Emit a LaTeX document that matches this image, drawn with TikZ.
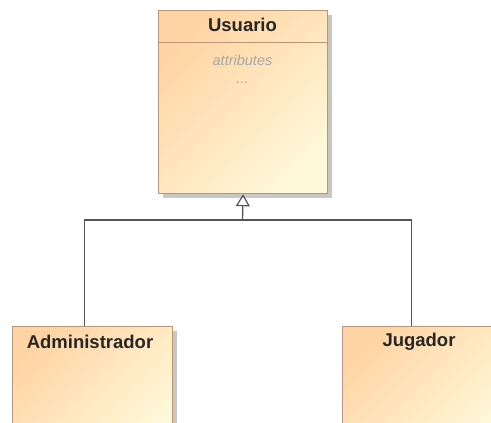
\documentclass[tikz,border=0pt]{standalone}
\usepackage{fontspec}
\setmainfont{Liberation Sans}
\usetikzlibrary{shadows,arrows.meta}
\definecolor{boxtop}{HTML}{FFD4A4}
\definecolor{boxbot}{HTML}{FFF8D8}
\definecolor{boxline}{HTML}{BC9674}
\definecolor{wire}{HTML}{555555}
\tikzset{
  classbox/.style={rectangle, draw=boxline, line width=1.2pt, anchor=north west,
    shading=axis, top color=boxtop, bottom color=boxbot, shading angle=45,
    drop shadow={shadow xshift=4pt, shadow yshift=-4pt, fill=black!22, opacity=1},
    inner sep=0pt},
  classname/.style={font=\bfseries\fontsize{18.5}{22}\selectfont, text=black!85, inner sep=0pt},
  compart/.style={font=\itshape\fontsize{14.5}{17}\selectfont, text=black!35, inner sep=0pt},
  wireline/.style={draw=wire, line width=1.3pt},
  genarrow/.style={wireline, -{Triangle[open, length=12pt, width=14pt, line width=1.2pt]}}
}
\begin{document}
\begin{tikzpicture}[x=1pt, y=-1pt]
  \useasboundingbox (0,0) rectangle (491,423);
  \clip (0,0) rectangle (491,423);
  % superclass
  \node[classbox, minimum width=169pt, minimum height=183pt] (usuario) at (158,10) {};
  \draw[boxline, line width=1pt] (158,42) -- (327,42);
  \node[classname] (usuarioname) at (242.5,25) {Usuario};
  \node[compart] (attrs) at (242.5,60) {attributes};
  \node[compart] (dots) at (242.5,83) {...};
  % subclasses
  \node[classbox, minimum width=160pt, minimum height=120pt] (admin) at (12,326) {};
  \node[classname] (adminname) at (90,342) {Administrador};
  \node[classbox, minimum width=160pt, minimum height=120pt] (jugador) at (342,326) {};
  \node[classname] (jugadorname) at (419,342) {Jugador};
  % generalization
  \coordinate (joint) at (242.5,220);
  \path[wireline] ([xshift=-8pt]admin.north) |- (joint) -| ([xshift=-11pt]jugador.north);
  \draw[genarrow] (joint) -- (usuario.south);
\end{tikzpicture}
\end{document}
